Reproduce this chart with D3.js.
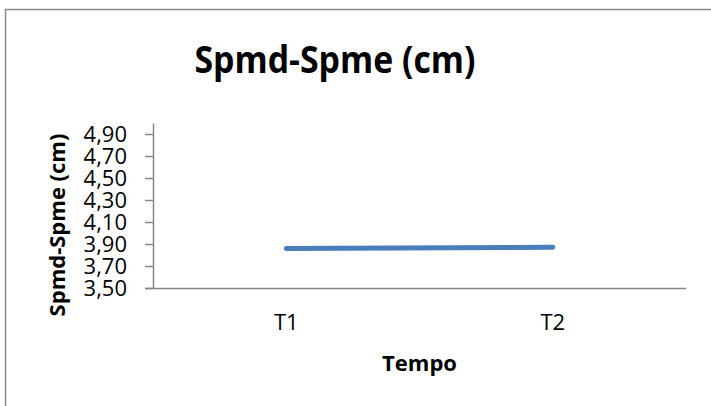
<!DOCTYPE html>
<html>
<head>
<meta charset="utf-8">
<script src="https://cdn.jsdelivr.net/npm/d3@7"></script>
<style>
  body { margin: 0; background: #fff; }
  text { font-family: "Open Sans", "Noto Sans", sans-serif; fill: #000; }
</style>
</head>
<body>
<svg id="chart"></svg>
<script>
// data
var categories = ["T1", "T2"];
var values = [3.86, 3.87];
var yTicks = [3.5, 3.7, 3.9, 4.1, 4.3, 4.5, 4.7, 4.9];
var chartTitle = "Spmd-Spme (cm)";
var xTitle = "Tempo";
var yTitle = "Spmd-Spme (cm)";

var W = 711, H = 406;
var margin = {top: 123, right: 25, bottom: 118, left: 153},
    width = W - margin.left - margin.right,
    height = H - margin.top - margin.bottom;

var svg = d3.select("#chart")
    .attr("width", W)
    .attr("height", H);

// chart area border (only left and top visible)
svg.append("path")
    .attr("d", "M5.5," + H + "V9.5H" + W)
    .attr("fill", "none")
    .attr("stroke", "#898989")
    .attr("stroke-width", 1.5);

var g = svg.append("g")
    .attr("transform", "translate(" + margin.left + "," + margin.top + ")");

var x = d3.scaleBand().domain(categories).range([0, width]);
var y = d3.scaleLinear().domain([3.5, 5.0]).range([height, 0]);

var fmt = function(d) { return d3.format(".2f")(d).replace(".", ","); };

// y axis
var yAxis = d3.axisLeft(y).tickValues(yTicks).tickFormat(fmt).tickSize(8).tickSizeOuter(0);
var yg = g.append("g").attr("class", "y axis").call(yAxis);
yg.select(".domain").attr("stroke", "#868686").attr("stroke-width", 1.5);
yg.selectAll(".tick line").attr("stroke", "#868686").attr("stroke-width", 1.5);
yg.selectAll(".tick text")
    .attr("x", -26)
    .attr("dy", "0.36em")
    .style("font-size", "22px");

// x axis
var xAxis = d3.axisBottom(x).tickSize(0).tickSizeOuter(0);
var xg = g.append("g")
    .attr("class", "x axis")
    .attr("transform", "translate(0," + height + ")")
    .call(xAxis);
xg.select(".domain")
    .attr("d", "M-8,0.5H" + width)
    .attr("stroke", "#868686").attr("stroke-width", 1.5);
xg.selectAll(".tick text")
    .attr("y", 42)
    .attr("dy", 0)
    .style("font-size", "22px");

// the line
var line = d3.line()
    .x(function(d, i) { return x(categories[i]) + x.bandwidth() / 2; })
    .y(function(d) { return y(d); });

g.append("path")
    .datum(values)
    .attr("d", line)
    .attr("fill", "none")
    .attr("stroke", "#4a7ebb")
    .attr("stroke-width", 5)
    .attr("stroke-linecap", "round");

// titles
svg.append("text")
    .attr("x", 335)
    .attr("y", 73)
    .attr("text-anchor", "middle")
    .attr("textLength", 281)
    .attr("lengthAdjust", "spacingAndGlyphs")
    .style("font-size", "37px")
    .style("font-weight", "bold")
    .text(chartTitle);

svg.append("text")
    .attr("x", margin.left + width / 2)
    .attr("y", 371)
    .attr("text-anchor", "middle")
    .style("font-size", "22px")
    .style("font-weight", "bold")
    .text(xTitle);

svg.append("text")
    .attr("transform", "translate(65,225) rotate(-90)")
    .attr("text-anchor", "middle")
    .style("font-size", "22px")
    .style("font-weight", "bold")
    .text(yTitle);
</script>
</body>
</html>
